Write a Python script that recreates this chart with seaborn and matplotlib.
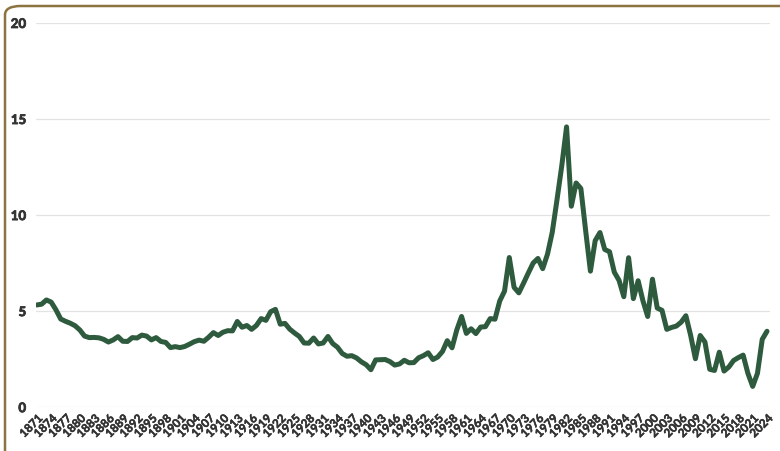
import numpy as np
import pandas as pd
import matplotlib
matplotlib.use("Agg")
import matplotlib.pyplot as plt
import seaborn as sns
from matplotlib.patches import FancyBboxPatch
import matplotlib.patheffects as pe

years = list(range(1871, 2025))
rates = [
    5.32, 5.36, 5.58, 5.47, 5.07, 4.59, 4.47, 4.37, 4.24, 4.02,
    3.70, 3.62, 3.63, 3.61, 3.53, 3.39, 3.50, 3.67, 3.43, 3.42,
    3.62, 3.60, 3.75, 3.70, 3.50, 3.62, 3.42, 3.37, 3.10, 3.15,
    3.10, 3.16, 3.28, 3.41, 3.49, 3.43, 3.64, 3.88, 3.73, 3.90,
    3.98, 3.97, 4.46, 4.16, 4.25, 4.05, 4.25, 4.61, 4.52, 4.97,
    5.09, 4.32, 4.36, 4.06, 3.86, 3.68, 3.34, 3.33, 3.60, 3.29,
    3.34, 3.68, 3.31, 3.12, 2.79, 2.65, 2.68, 2.56, 2.36, 2.21,
    1.95, 2.46, 2.47, 2.48, 2.37, 2.19, 2.25, 2.44, 2.31, 2.32,
    2.57, 2.68, 2.83, 2.48, 2.61, 2.90, 3.46, 3.09, 4.02, 4.72,
    3.84, 4.08, 3.83, 4.17, 4.19, 4.61, 4.58, 5.53, 6.04, 7.79,
    6.24, 5.95, 6.46, 6.99, 7.50, 7.74, 7.21, 7.96, 9.10, 10.80,
    12.57, 14.59, 10.46, 11.67, 11.38, 9.19, 7.08, 8.67, 9.09, 8.21,
    8.09, 7.03, 6.60, 5.75, 7.78, 5.65, 6.58, 5.54, 4.72, 6.66,
    5.16, 5.04, 4.05, 4.15, 4.22, 4.42, 4.76, 3.74, 2.52, 3.73,
    3.39, 1.97, 1.91, 2.86, 1.88, 2.09, 2.43, 2.58, 2.71, 1.76,
    1.08, 1.76, 3.53, 3.95,
]
tick_years = list(range(1871, 2025, 3))
y_ticks = [0, 5, 10, 15, 20]

df = pd.DataFrame({"year": years, "rate": rates})

sns.set_theme(style="white")
plt.rcParams["font.family"] = ["Lato", "DejaVu Sans"]

fig = plt.figure(figsize=(7.8, 4.52), dpi=100)
ax = fig.add_axes([0.046, 0.097, 0.941, 0.850])

card = FancyBboxPatch((5 / 780, -0.2), 1.2, 1 - 7 / 452 + 0.2,
                      boxstyle="round,pad=0,rounding_size=0.02",
                      transform=fig.transFigure, fill=False,
                      edgecolor="#8c7340", linewidth=1.8, zorder=0)
fig.patches.append(card)

sns.lineplot(data=df, x="year", y="rate", ax=ax, color="#2e5a3e",
             linewidth=3.6, solid_joinstyle="round", solid_capstyle="round")

txt_col = "#333333"

ax.set_xlim(1870.8, 2024.6)
ax.set_ylim(0, 20)
ax.set_yticks(y_ticks)
ax.set_yticklabels([str(v) for v in y_ticks], color=txt_col, fontsize=9.5,
                   fontweight="bold")
ax.set_xticks(tick_years)
ax.set_xticklabels([str(v) for v in tick_years], rotation=45, ha="right",
                   rotation_mode="anchor", color=txt_col, fontsize=8.4,
                   fontweight="bold")
for lab in ax.get_yticklabels():
    lab.set_path_effects([pe.withStroke(linewidth=0.6, foreground=txt_col)])
for lab in ax.get_xticklabels():
    lab.set_path_effects([pe.withStroke(linewidth=0.35, foreground=txt_col)])
ax.tick_params(axis="both", length=0)
ax.tick_params(axis="x", pad=4)
ax.tick_params(axis="y", pad=7)
ax.grid(axis="y", color="#e3e3e3", linewidth=0.9)
ax.set_axisbelow(True)
for s in ax.spines.values():
    s.set_visible(False)
ax.set_xlabel("")
ax.set_ylabel("")

fig.savefig("out.png", dpi=100)
